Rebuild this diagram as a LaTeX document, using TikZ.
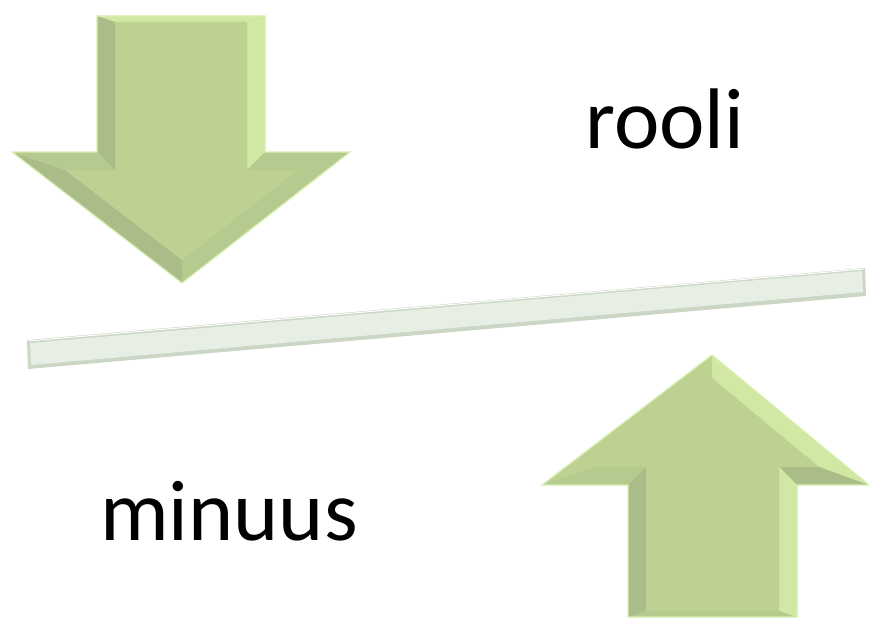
\documentclass[tikz,border=0pt]{standalone}
\usepackage{fontspec}
\setmainfont{Carlito}
\definecolor{arrowmain}{HTML}{BCD192}
\definecolor{arrowlight}{HTML}{D0E8A4}
\definecolor{arrowmid}{HTML}{B5CA8F}
\definecolor{arrowdark}{HTML}{AABC88}
\definecolor{arrowedge}{HTML}{D8F0B0}
\definecolor{barface}{HTML}{E7EFE4}
\definecolor{barshade}{HTML}{CBD6C4}
\begin{document}
\begin{tikzpicture}[x=1pt,y=-1pt,
		facet/.style={fill=#1},
		rim/.style={draw=arrowedge, line width=1.2pt, line join=miter},
		word/.style={font=\fontsize{86}{92}\selectfont, anchor=base, inner sep=0pt}]
		\useasboundingbox (0,0) rectangle (869,618);
		
		% down arrow
		\fill[arrowmain] (97,16) -- (265,16) -- (265,152) -- (350,152) -- (182,283) -- (12,152) -- (97,152) -- cycle;
		\fill[facet=arrowlight] (97,16) -- (265,16) -- (247,22) -- (115,22) -- cycle;
		\fill[facet=arrowlight] (265,16) -- (265,152) -- (247,170) -- (247,22) -- cycle;
		\fill[facet=arrowmid] (265,152) -- (350,152) -- (298,170) -- (247,170) -- cycle;
		\fill[facet=arrowmid] (350,152) -- (182,283) -- (182,260) -- (298,170) -- cycle;
		\fill[facet=arrowdark] (182,283) -- (12,152) -- (65,170) -- (182,260) -- cycle;
		\fill[facet=arrowmid] (12,152) -- (97,152) -- (115,170) -- (65,170) -- cycle;
		\fill[facet=arrowdark] (97,152) -- (97,16) -- (115,22) -- (115,170) -- cycle;
		\fill[arrowmain] (115,22) -- (247,22) -- (247,170) -- (298,170) -- (182,260) -- (65,170) -- (115,170) -- cycle;
		\draw[rim] (97,16) -- (265,16) -- (265,152) -- (350,152) -- (182,283) -- (12,152) -- (97,152) -- cycle;
		
		% up arrow
		\fill[arrowmain] (712,355) -- (869,485) -- (797,485) -- (797,617) -- (628,617) -- (628,485) -- (542,485) -- cycle;
		\fill[facet=arrowlight] (712,355) -- (869,485) -- (819,467) -- (712,378) -- cycle;
		\fill[facet=arrowdark] (869,485) -- (797,485) -- (779,467) -- (819,467) -- cycle;
		\fill[facet=arrowlight] (797,485) -- (797,617) -- (779,611) -- (779,467) -- cycle;
		\fill[facet=arrowmid] (797,617) -- (628,617) -- (646,611) -- (779,611) -- cycle;
		\fill[facet=arrowdark] (628,617) -- (628,485) -- (646,467) -- (646,611) -- cycle;
		\fill[facet=arrowmid] (628,485) -- (542,485) -- (595,467) -- (646,467) -- cycle;
		\fill[facet=arrowmain] (542,485) -- (712,355) -- (712,378) -- (595,467) -- cycle;
		\fill[arrowmain] (712,378) -- (819,467) -- (779,467) -- (779,611) -- (646,611) -- (646,467) -- (595,467) -- cycle;
		\draw[rim] (712,355) -- (869,485) -- (797,485) -- (797,617) -- (628,617) -- (628,485) -- (542,485) -- cycle;
		
		% bar
		\fill[barshade] (27,340) -- (865,268) -- (866,296) -- (28,369) -- cycle;
		\fill[barface] (30,343) -- (862,271) -- (863,292) -- (31,365) -- cycle;
		\draw[white, line width=1pt] (28,341) -- (864,269);
		
		\node[word] (rooli) at (665,148) {rooli};
		\node[word] (minuus) at (229,540) {minuus};
	\end{tikzpicture}
\end{document}
